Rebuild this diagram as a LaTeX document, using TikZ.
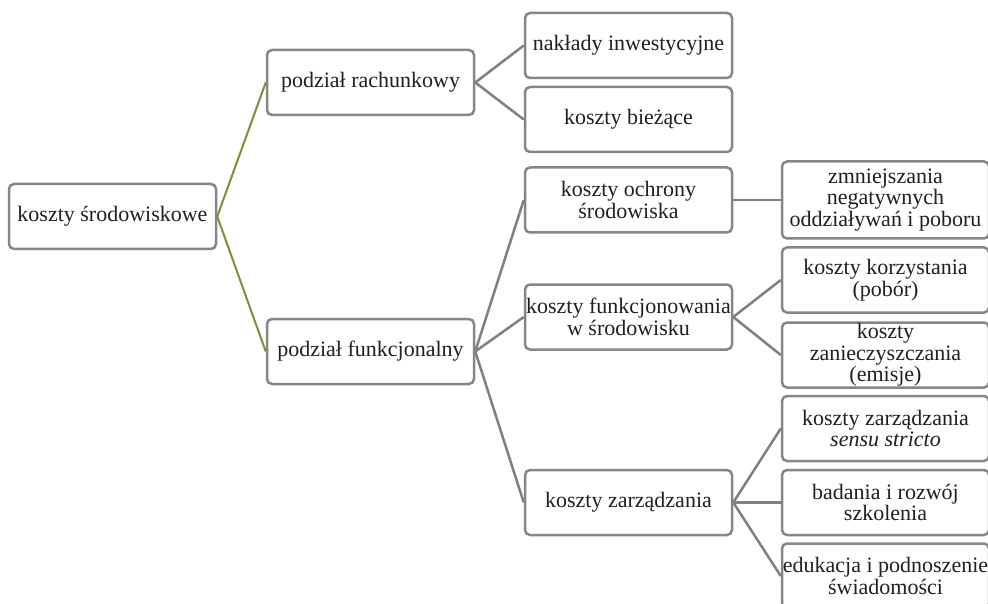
\documentclass[tikz,border=0pt]{standalone}
\usepackage{fontspec}
\setmainfont{Liberation Serif}
\newfontfamily\timesf{Liberation Serif}
\definecolor{boxgray}{RGB}{134,134,138}
\definecolor{linegray}{RGB}{128,128,128}
\definecolor{olive}{RGB}{118,146,60}
\definecolor{txt}{RGB}{35,31,32}
\tikzset{
  box/.style={draw=boxgray, line width=2.5pt, rounded corners=5pt, fill=white,
    minimum width=207pt, minimum height=65pt, align=center, inner sep=0pt,
    text=txt, font=\timesf\fontsize{22}{21.5}\selectfont},
  conn/.style={draw=linegray, line width=2.5pt},
  gconn/.style={draw=olive, line width=2pt}
}
\begin{document}
\begin{tikzpicture}[x=1pt,y=-1pt]
\useasboundingbox[fill=white] (0,0) rectangle (988,604);
\node[box] (root) at (112.5,216.5) {koszty środowiskowe};
\node[box] (rach) at (370.5,82.5) {podział rachunkowy};
\node[box] (funk) at (370.5,351.5) {podział funkcjonalny};
\node[box] (nakl) at (628.5,45.5) {nakłady inwestycyjne};
\node[box] (biez) at (628.5,119.5) {koszty bieżące};
\node[box] (ochr) at (628.5,200) {koszty ochrony\\środowiska};
\node[box] (funs) at (628.5,317) {koszty funkcjonowania\\w środowisku};
\node[box] (zarz) at (628.5,502.5) {koszty zarządzania};
\node[box, minimum height=77pt] (zmni) at (885.5,200) {zmniejszania\\negatywnych\\oddziaływań i poboru};
\node[box] (korz) at (885.5,280) {koszty korzystania\\(pobór)};
\node[box] (zani) at (885.5,355) {koszty\\zanieczyszczania\\(emisje)};
\node[box] (stri) at (885.5,428.5) {koszty zarządzania\\\textit{sensu stricto}};
\node[box] (bada) at (885.5,502.5) {badania i rozwój\\szkolenia};
\node[box] (eduk) at (885.5,576) {edukacja i podnoszenie\\świadomości};
\draw[gconn] (root.east) -- (rach.west);
\draw[gconn] (root.east) -- (funk.west);
\draw[conn] (rach.east) -- (nakl.west);
\draw[conn] (rach.east) -- (biez.west);
\draw[conn] (funk.east) -- (ochr.west);
\draw[conn] (funk.east) -- (funs.west);
\draw[conn] (funk.east) -- (zarz.west);
\draw[conn] (ochr.east) -- (zmni.west);
\draw[conn] (funs.east) -- (korz.west);
\draw[conn] (funs.east) -- (zani.west);
\draw[conn] (zarz.east) -- (stri.west);
\draw[conn] (zarz.east) -- (bada.west);
\draw[conn] (zarz.east) -- (eduk.west);
\end{tikzpicture}
\end{document}
